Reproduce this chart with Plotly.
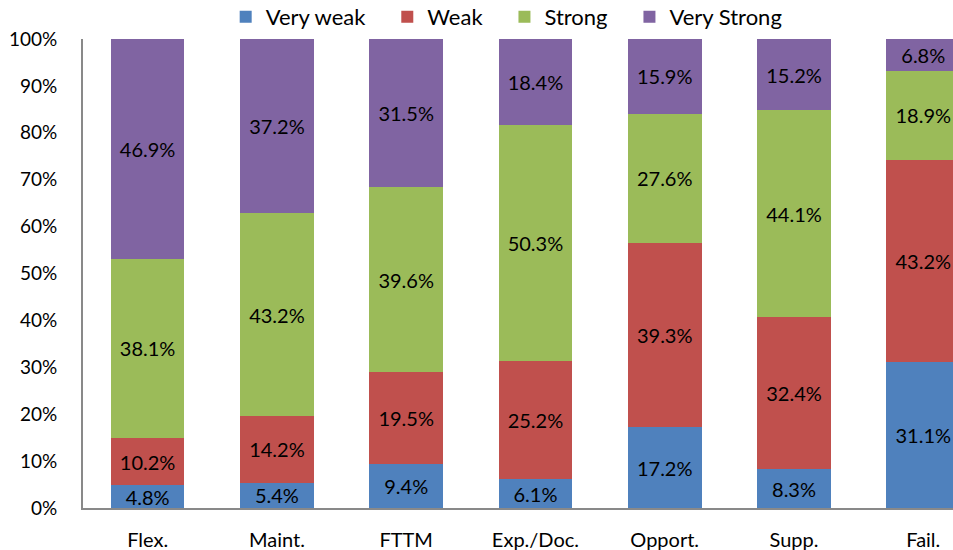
import plotly.graph_objects as go

categories = ["Flex.", "Maint.", "FTTM", "Exp./Doc.", "Opport.", "Supp.", "Fail."]
very_weak = [4.8, 5.4, 9.4, 6.1, 17.2, 8.3, 31.1]
weak = [10.2, 14.2, 19.5, 25.2, 39.3, 32.4, 43.2]
strong = [38.1, 43.2, 39.6, 50.3, 27.6, 44.1, 18.9]
very_strong = [46.9, 37.2, 31.5, 18.4, 15.9, 15.2, 6.8]

series = [
    ("Very weak", very_weak, "#4F81BD"),
    ("Weak", weak, "#C0504D"),
    ("Strong", strong, "#9BBB59"),
    ("Very Strong", very_strong, "#8064A2"),
]

FONT = "Lato, Carlito, Calibri, sans-serif"
PAD = "\u00a0" * 3  # extra spacing between legend entries

fig = go.Figure()
for i, (name, vals, color) in enumerate(series):
    fig.add_trace(go.Bar(
        name=name + (PAD if i < len(series) - 1 else ""),
        x=list(range(len(categories))),
        y=vals,
        marker=dict(color=color, line=dict(width=0)),
        text=[f"{v:.1f}%" for v in vals],
        textposition="inside",
        insidetextanchor="middle",
        constraintext="none",
        textangle=0,
        textfont=dict(family=FONT, size=20, color="black"),
        hoverinfo="skip",
    ))

fig.update_layout(
    barmode="stack",
    bargap=0.43,
    width=953,
    height=550,
    margin=dict(l=83, r=0, t=39, b=42, autoexpand=False),
    plot_bgcolor="white",
    paper_bgcolor="white",
    font=dict(family=FONT, size=19, color="black"),
    showlegend=True,
    legend=dict(
        orientation="h",
        x=0.164, xanchor="left",
        y=1.047, yanchor="middle",
        font=dict(family=FONT, size=22, color="black"),
        traceorder="normal",
        itemwidth=30,
        bgcolor="rgba(0,0,0,0)",
    ),
    xaxis=dict(
        tickmode="array",
        tickvals=list(range(len(categories))),
        ticktext=categories,
        range=[-0.5, 6.23],
        showline=True,
        linecolor="#898989",
        linewidth=2,
        ticks="",
        showgrid=False,
        zeroline=False,
        tickfont=dict(family=FONT, size=20),
        ticklabelstandoff=13,
    ),
    yaxis=dict(
        range=[0, 100],
        dtick=10,
        ticksuffix="%",
        showline=True,
        linecolor="#898989",
        linewidth=2,
        ticks="",
        showgrid=False,
        zeroline=False,
        tickfont=dict(family=FONT, size=19),
        ticklabelstandoff=20,
    ),
)

fig.write_html("out.html")
